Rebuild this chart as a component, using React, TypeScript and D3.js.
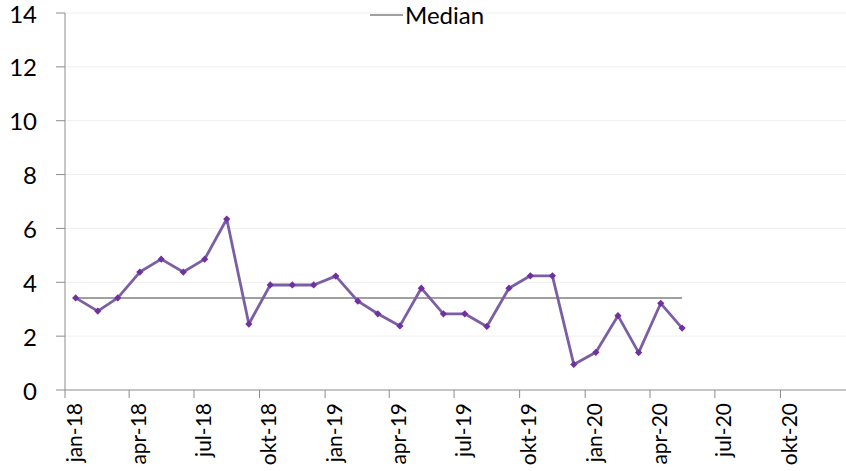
import React from "react";
import * as d3 from "d3";

// monthly values, jan-18 .. may-20
const months = [
  "2018-01", "2018-02", "2018-03", "2018-04", "2018-05", "2018-06", "2018-07", "2018-08", "2018-09", "2018-10", "2018-11", "2018-12",
  "2019-01", "2019-02", "2019-03", "2019-04", "2019-05", "2019-06", "2019-07", "2019-08", "2019-09", "2019-10", "2019-11", "2019-12",
  "2020-01", "2020-02", "2020-03", "2020-04", "2020-05"
];
const values = [
  3.42, 2.93, 3.42, 4.38, 4.86, 4.38, 4.86, 6.35, 2.45, 3.9, 3.9, 3.9,
  4.23, 3.3, 2.83, 2.38, 3.78, 2.83, 2.83, 2.36, 3.78, 4.24, 4.24, 0.95,
  1.4, 2.76, 1.39, 3.22, 2.3
];
const median = 3.42;
const tickLabels = ["jan-18", "apr-18", "jul-18", "okt-18", "jan-19", "apr-19", "jul-19", "okt-19", "jan-20", "apr-20", "jul-20", "okt-20"];
const yTicks = [0, 2, 4, 6, 8, 10, 12, 14];

const W = 846, H = 471;
const margin = { top: 13, right: 0, bottom: 81, left: 65 };
const font = "Lato, 'Open Sans', sans-serif";

export default function App() {
  const parse = d3.timeParse("%Y-%m");
  const data = months.map((m, i) => ({ date: parse(m) as Date, v: values[i] }));
  const start = new Date(2018, 0, 1);
  const end = new Date(2021, 0, 1);
  const x = d3.scaleTime().domain([start, end]).range([margin.left, W - margin.right]);
  const y = d3.scaleLinear().domain([0, 14]).range([H - margin.bottom, margin.top]);
  // points sit in the middle of their month
  const mid = (d: Date) => x(d3.timeDay.offset(d, 15));
  const line = d3.line<{ date: Date; v: number }>().x(d => mid(d.date)).y(d => y(d.v));
  const ticks = d3.timeMonth.every(3)!.range(start, end);
  const x0 = mid(data[0].date), x1 = mid(data[data.length - 1].date);
  const marker = d3.symbol().type(d3.symbolSquare).size(26)()!;

  return (
    <svg width={W} height={H} style={{ position: "absolute", left: 0, top: 0 }} fontFamily={font}>
      <rect width={W} height={H} fill="#fff" />
      {yTicks.slice(1).map(t => (
        <line key={t} x1={margin.left} x2={W} y1={y(t)} y2={y(t)} stroke="#efefef" strokeWidth={1} />
      ))}
      {/* y axis */}
      <line x1={margin.left} x2={margin.left} y1={y(14)} y2={y(0)} stroke="#8c8c8c" />
      {yTicks.map(t => (
        <g key={t}>
          <line x1={margin.left - 9} x2={margin.left} y1={y(t)} y2={y(t)} stroke="#8c8c8c" />
          <text x={37} y={y(t) + 1} dy="0.36em" textAnchor="end" fontSize={24} fill="#000">{t}</text>
        </g>
      ))}
      {/* x axis */}
      <line x1={margin.left} x2={W} y1={y(0)} y2={y(0)} stroke="#8c8c8c" />
      {ticks.map((d, i) => (
        <g key={i}>
          <line x1={x(d)} x2={x(d)} y1={y(0)} y2={y(0) + 8} stroke="#8c8c8c" />
          <text transform={`translate(${x(d) + 9},${y(0) + 13}) rotate(-90)`} dy="0.36em" textAnchor="end" fontSize={21} fill="#000">
            {tickLabels[i]}
          </text>
        </g>
      ))}
      {/* median */}
      <line x1={x0} x2={x1} y1={y(median)} y2={y(median)} stroke="#808080" strokeWidth={1.5} />
      {/* series */}
      <path d={line(data) ?? ""} fill="none" stroke="#7b5fa5" strokeWidth={2.8} strokeLinejoin="round" />
      {data.map((d, i) => (
        <path key={i} d={marker} transform={`translate(${mid(d.date)},${y(d.v)}) rotate(45)`} fill="#7030a0" />
      ))}
      {/* legend */}
      <line x1={370} x2={403} y1={15} y2={15} stroke="#808080" strokeWidth={1.5} />
      <text x={405} y={15} dy="0.36em" fontSize={24} fill="#000">Median</text>
    </svg>
  );
}
